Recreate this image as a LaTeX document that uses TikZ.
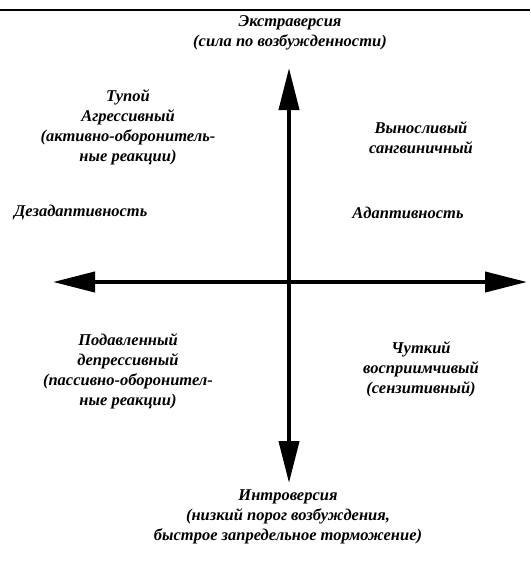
\documentclass[tikz,border=0pt]{standalone}
\usepackage{fontspec}
\setmainfont{Liberation Serif}
\usetikzlibrary{arrows.meta}
\tikzset{
  lbl/.style={inner sep=0pt, align=center, font=\fontsize{16.5}{20}\selectfont\bfseries\itshape},
  axis/.style={line width=4pt, -{Triangle[length=42pt,width=20pt]}},
  rule/.style={line width=1.5pt}
}
\begin{document}
\begin{tikzpicture}[x=1pt,y=-1pt]
\useasboundingbox (0,0) rectangle (530,562);
% top rule
\coordinate (r1) at (0,10);
\coordinate (r2) at (530,10);
\draw[rule] (r1) -- (r2);
% axes
\coordinate (o) at (289,282);
\coordinate (tl) at (53,282);
\coordinate (tr) at (527,282);
\coordinate (tt) at (289,68);
\coordinate (tb) at (289,483);
\draw[axis] (o) -- (tl);
\draw[axis] (o) -- (tr);
\draw[axis] (o) -- (tt);
\draw[axis] (o) -- (tb);
% labels
\node[lbl] (extra) at (290,33) {Экстраверсия\\(сила по возбужденности)};
\node[lbl] (tupoy) at (128,127) {Тупой\\Агрессивный\\(активно-оборонитель-\\ные реакции)};
\node[lbl,anchor=west] (dezad) at (14,213) {Дезадаптивность};
\node[lbl] (vynos) at (421,138) {Выносливый\\сангвиничный};
\node[lbl] (adapt) at (408,213) {Адаптивность};
\node[lbl] (podav) at (128,371) {Подавленный\\депрессивный\\(пассивно-оборонител-\\ные реакции)};
\node[lbl] (chut) at (421,369) {Чуткий\\восприимчивый\\(сензитивный)};
\node[lbl] (intro) at (288,517) {Интроверсия\\(низкий порог возбуждения,\\быстрое запредельное торможение)};
\end{tikzpicture}
\end{document}
